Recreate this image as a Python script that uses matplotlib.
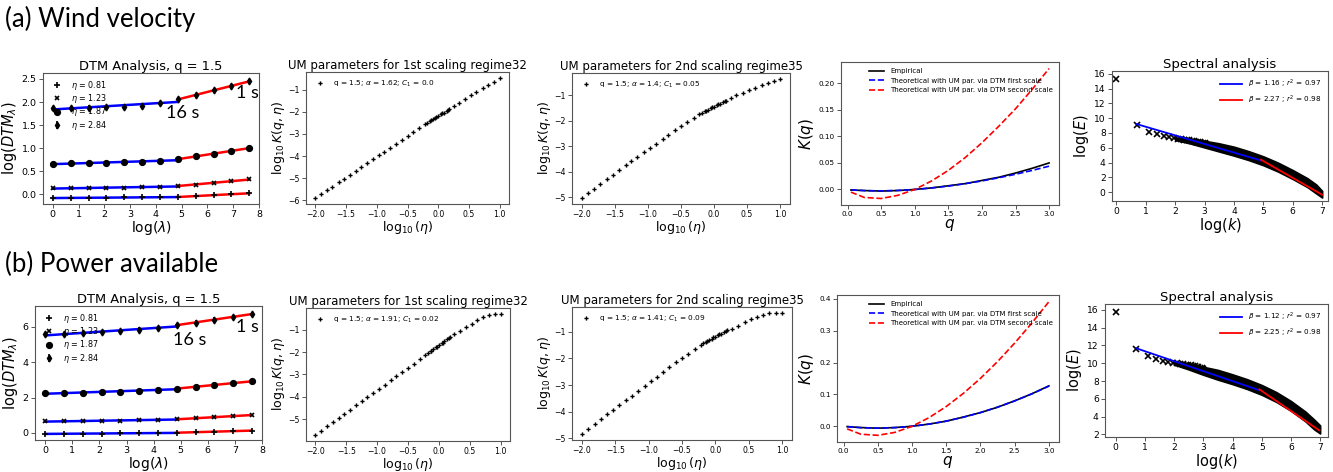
import numpy as np
import matplotlib
matplotlib.use("Agg")
import matplotlib.pyplot as plt
from matplotlib.ticker import MultipleLocator

W, H = 1333, 472

# DTM analysis, q = 1.5
log_lam = [0.0, 0.69, 1.39, 2.08, 2.77, 3.47, 4.16, 4.85, 5.55, 6.24, 6.93, 7.62]
etas = [0.81, 1.23, 1.87, 2.84]
dtm_wind = [
    [-0.08, -0.08, -0.08, -0.075, -0.07, -0.07, -0.065, -0.06, -0.04, -0.02, 0.0, 0.02],
    [0.13, 0.13, 0.135, 0.14, 0.14, 0.15, 0.16, 0.18, 0.21, 0.25, 0.28, 0.32],
    [0.66, 0.67, 0.68, 0.68, 0.69, 0.70, 0.72, 0.76, 0.82, 0.88, 0.94, 1.00],
    [1.87, 1.87, 1.88, 1.89, 1.90, 1.92, 1.97, 2.06, 2.15, 2.25, 2.35, 2.45],
]
dtm_power = [
    [-0.05, -0.05, -0.04, -0.04, -0.03, -0.02, -0.01, 0.01, 0.04, 0.07, 0.10, 0.13],
    [0.65, 0.66, 0.67, 0.68, 0.70, 0.72, 0.74, 0.77, 0.83, 0.89, 0.95, 1.01],
    [2.24, 2.26, 2.28, 2.31, 2.34, 2.38, 2.43, 2.51, 2.61, 2.71, 2.82, 2.92],
    [5.58, 5.60, 5.64, 5.70, 5.76, 5.85, 5.95, 6.10, 6.25, 6.42, 6.58, 6.72],
]
dtm_err_wind = 0.05
dtm_err_power = 0.12

# UM parameters: log10 K(q, eta) against log10(eta)
log_eta = [-2.0, -1.91, -1.81, -1.72, -1.62, -1.53, -1.44, -1.34, -1.25, -1.16, -1.06,
           -0.97, -0.88, -0.78, -0.69, -0.59, -0.5, -0.41, -0.31, -0.22, -0.12, -0.03,
           0.06, 0.16, 0.25, 0.34, 0.44, 0.53, 0.62, 0.72, 0.81, 0.91, 1.0]
log_eta_dense = [-0.18, -0.135, -0.09, -0.045, 0.0, 0.045, 0.09, 0.135, 0.18]

um1_wind = [-5.90, -5.73, -5.54, -5.38, -5.19, -5.02, -4.85, -4.67, -4.50, -4.33, -4.14,
            -3.97, -3.81, -3.62, -3.45, -3.27, -3.10, -2.93, -2.74, -2.57, -2.39, -2.23,
            -2.07, -1.90, -1.74, -1.58, -1.41, -1.25, -1.10, -0.94, -0.79, -0.63, -0.47]
um1_wind_dense = [-2.49, -2.41, -2.34, -2.26, -2.19, -2.11, -2.04, -1.96, -1.89]
um2_wind = [-5.04, -4.86, -4.67, -4.49, -4.30, -4.12, -3.95, -3.76, -3.59, -3.42, -3.23,
            -3.06, -2.90, -2.72, -2.56, -2.38, -2.22, -2.07, -1.90, -1.75, -1.61, -1.48,
            -1.36, -1.23, -1.11, -1.01, -0.90, -0.80, -0.71, -0.61, -0.53, -0.44, -0.36]
um2_wind_dense = [-1.69, -1.63, -1.57, -1.51, -1.45, -1.39, -1.33, -1.27, -1.21]
um1_power = [-5.70, -5.52, -5.32, -5.14, -4.94, -4.76, -4.58, -4.38, -4.20, -4.02, -3.82,
             -3.64, -3.46, -3.26, -3.08, -2.88, -2.70, -2.52, -2.32, -2.14, -1.94, -1.76,
             -1.58, -1.38, -1.21, -1.06, -0.90, -0.74, -0.57, -0.42, -0.33, -0.30, -0.30]
um1_power_dense = [-2.06, -1.97, -1.88, -1.79, -1.70, -1.61, -1.52, -1.43, -1.34]
um2_power = [-4.84, -4.67, -4.48, -4.29, -4.10, -3.93, -3.76, -3.57, -3.40, -3.23, -3.04,
             -2.85, -2.68, -2.49, -2.32, -2.14, -1.98, -1.82, -1.65, -1.49, -1.34, -1.21,
             -1.09, -0.96, -0.88, -0.76, -0.64, -0.53, -0.43, -0.35, -0.30, -0.29, -0.29]
um2_power_dense = [-1.43, -1.37, -1.31, -1.25, -1.19, -1.12, -1.06, -1.00, -0.94]

um_labels_wind = [r"q = 1.5; $\alpha$ = 1.62; $C_1$ = 0.0", r"q = 1.5; $\alpha$ = 1.4; $C_1$ = 0.05"]
um_labels_power = [r"q = 1.5; $\alpha$ = 1.91; $C_1$ = 0.02", r"q = 1.5; $\alpha$ = 1.41; $C_1$ = 0.09"]

# K(q) curves
q_vals = [0.05, 0.25, 0.5, 0.75, 1.0, 1.25, 1.5, 1.75, 2.0, 2.25, 2.5, 2.75, 3.0]
kq_emp_wind = [-0.001, -0.002, -0.003, -0.002, 0.0, 0.003, 0.007, 0.011, 0.017, 0.023, 0.031, 0.040, 0.050]
kq_first_wind = [-0.0006, -0.0022, -0.0026, -0.0018, 0.0, 0.0028, 0.0064, 0.0109, 0.0161, 0.0221, 0.0287, 0.0360, 0.0439]
kq_second_wind = [-0.005, -0.015, -0.017, -0.011, 0.0, 0.016, 0.036, 0.060, 0.088, 0.119, 0.152, 0.189, 0.228]
kq_emp_power = [-0.001, -0.004, -0.006, -0.004, 0.0, 0.007, 0.016, 0.029, 0.043, 0.060, 0.080, 0.102, 0.127]
kq_first_power = [-0.0011, -0.0044, -0.0057, -0.0042, 0.0, 0.0069, 0.0164, 0.0285, 0.0431, 0.0602, 0.0797, 0.1017, 0.1262]
kq_second_power = [-0.0081, -0.0249, -0.0284, -0.0191, 0.0, 0.0274, 0.0622, 0.1034, 0.1507, 0.2034, 0.2614, 0.3242, 0.3914]

# Spectra: first wavenumbers, then the dense band at high k
log_k = [0.0, 0.69, 1.10, 1.39, 1.61, 1.79, 1.95, 2.08, 2.20, 2.30,
         2.40, 2.48, 2.56, 2.64, 2.71, 2.77, 2.83, 2.89, 2.94, 3.0]
logE_wind = [15.3, 9.1, 8.2, 7.8, 7.6, 7.45, 7.35, 7.25, 7.2, 7.1,
             7.05, 7.0, 6.95, 6.9, 6.85, 6.8, 6.75, 6.7, 6.65, 6.6]
logE_power = [15.8, 11.6, 10.8, 10.45, 10.25, 10.15, 10.05, 10.0, 9.95, 9.9,
              9.85, 9.8, 9.75, 9.7, 9.65, 9.6, 9.55, 9.5, 9.45, 9.4]
band_x = [2.0, 2.5, 3.0, 3.5, 4.0, 4.5, 5.0, 5.5, 6.0, 6.5, 6.8, 7.0]
band_wind_hi = [7.35, 7.2, 6.95, 6.6, 6.15, 5.55, 4.85, 4.0, 3.0, 1.9, 1.05, 0.2]
band_wind_lo = [7.05, 6.6, 6.05, 5.5, 4.95, 4.35, 3.65, 2.8, 1.8, 0.7, -0.15, -0.7]
band_power_hi = [10.15, 9.9, 9.6, 9.25, 8.75, 8.2, 7.55, 6.75, 5.75, 4.55, 3.65, 3.0]
band_power_lo = [9.85, 9.3, 8.7, 8.15, 7.65, 7.1, 6.45, 5.65, 4.65, 3.45, 2.55, 2.1]

# spectral fits: beta, r^2, x range, anchor point (x, logE)
beta_wind = [1.16, 2.27]
r2_wind = [0.97, 0.98]
fit_x_wind = [[0.69, 4.92], [4.92, 7.0]]
fit_anchor_wind = [(0.69, 9.2), (7.0, -0.32)]
beta_power = [1.12, 2.25]
r2_power = [0.97, 0.98]
fit_x_power = [[0.69, 4.92], [4.92, 6.97]]
fit_anchor_power = [(0.69, 11.7), (6.97, 2.45)]

SPINE = "#555555"


def px_axes(fig, x0, y0, x1, y1):
    return fig.add_axes([x0 / W, 1 - y1 / H, (x1 - x0) / W, (y1 - y0) / H])


def style(ax, tick_fs):
    for s in ax.spines.values():
        s.set_color(SPINE)
        s.set_linewidth(0.8)
    ax.tick_params(labelsize=tick_fs, length=3, width=0.7, color=SPINE, pad=1.5)


def dtm_panel(ax, series, err, note16, note1):
    x = np.array(log_lam)
    markers = ["+", "x", "o", "d"]
    sizes = [4, 3, 4, 3.5]
    for vals, eta, m, ms in zip(series, etas, markers, sizes):
        y = np.array(vals)
        lab = r"$\eta$ = %.2f" % eta
        if m == "d":
            ax.errorbar(x, y, yerr=err, fmt="d", color="k", ms=ms, elinewidth=1.2,
                        capsize=0, label=lab, zorder=3)
        else:
            ax.plot(x, y, m, color="k", ms=ms, mew=1.2, label=lab, zorder=3)
        for sl, c in ((slice(0, 8), "blue"), (slice(7, 12), "red")):
            p = np.polyfit(x[sl], y[sl], 1)
            ax.plot(x[sl], np.polyval(p, x[sl]), color=c, lw=1.8, zorder=2)
    ax.xaxis.set_major_locator(MultipleLocator(1))
    ax.set_title("DTM Analysis, q = 1.5", fontsize=9.4, pad=2)
    ax.set_xlabel(r"log($\lambda$)", fontsize=10, labelpad=0)
    ax.set_ylabel(r"log($DTM_{\lambda}$)", fontsize=10.5, labelpad=2)
    ax.legend(loc="upper left", frameon=False, fontsize=5.8, handletextpad=0.8,
              labelspacing=0.05, borderaxespad=0.3, handleheight=0.5)
    ax.text(note16[0], note16[1], "16 s", fontsize=13, family="Lato", va="center")
    ax.text(note1[0], note1[1], "1 s", fontsize=13, family="Lato", va="center")
    style(ax, 6.8)


def um_panel(ax, y, y_dense, title, label):
    ax.plot(log_eta, y, "P", color="k", ms=3, mew=0, label=label)
    ax.plot(log_eta_dense, y_dense, "P", color="k", ms=3, mew=0)
    ax.xaxis.set_major_locator(MultipleLocator(0.5))
    ax.yaxis.set_major_locator(MultipleLocator(1))
    ax.set_title(title, fontsize=8.5, pad=1)
    ax.set_xlabel(r"$\log_{10}(\eta)$", fontsize=9, labelpad=0)
    ax.set_ylabel(r"$\log_{10}K(q,\eta)$", fontsize=9, labelpad=1)
    ax.legend(loc="upper left", frameon=False, fontsize=5.3, handletextpad=0.8)
    style(ax, 5.6)


def kq_panel(ax, emp, first, second, ystep):
    ax.plot(q_vals, emp, color="k", lw=1.2, label="Empirical")
    ax.plot(q_vals, first, "--", color="blue", lw=1.2,
            label="Theoretical with UM par. via DTM first scale")
    ax.plot(q_vals, second, "--", color="red", lw=1.2,
            label="Theoretical with UM par. via DTM second scale")
    ax.xaxis.set_major_locator(MultipleLocator(0.5))
    ax.yaxis.set_major_locator(MultipleLocator(ystep))
    ax.set_xlabel(r"$q$", fontsize=11, labelpad=0)
    ax.set_ylabel(r"$K(q)$", fontsize=11, labelpad=2)
    ax.legend(loc="upper right", frameon=False, fontsize=5, handlelength=2.2)
    style(ax, 5.2)


def spec_panel(ax, logE, hi, lo, betas, r2s, fit_x, anchors, xlim, ylim):
    ax.fill_between(band_x, lo, hi, facecolor="k", edgecolor="k", lw=1.2, zorder=2)
    ax.plot(log_k, logE, "x", color="k", ms=5, mew=1.2, zorder=2)
    for b, r2, xs, (ax0, ay0), c in zip(betas, r2s, fit_x, anchors, ("blue", "red")):
        xs = np.array(xs)
        ax.plot(xs, ay0 - b * (xs - ax0), color=c, lw=1.3, zorder=3,
                label=r"$\beta$ = %.2f ; $r^2$ = %.2f" % (b, r2))
    ax.set_xlim(*xlim)
    ax.set_ylim(*ylim)
    ax.xaxis.set_major_locator(MultipleLocator(1))
    ax.yaxis.set_major_locator(MultipleLocator(2))
    ax.set_title("Spectral analysis", fontsize=9.5, pad=1)
    ax.set_xlabel(r"log($k$)", fontsize=10.5, labelpad=0)
    ax.set_ylabel(r"log($E$)", fontsize=10.5, labelpad=2)
    ax.legend(loc="upper right", frameon=False, fontsize=5.2, handlelength=3)
    style(ax, 6.6)


fig = plt.figure(figsize=(W / 100, H / 100), dpi=100)

fig.text(5 / W, 1 - 19 / H, "(a) Wind velocity", fontsize=18.5, family="Lato", va="center")
fig.text(5 / W, 1 - 264 / H, "(b) Power available", fontsize=18.5, family="Lato", va="center")

# (a) wind velocity
ax = px_axes(fig, 43, 73, 259, 204)
dtm_panel(ax, dtm_wind, dtm_err_wind, (4.4, 1.77), (7.1, 2.2))
ax = px_axes(fig, 306, 72, 509, 204)
um_panel(ax, um1_wind, um1_wind_dense, "UM parameters for 1st scaling regime32", um_labels_wind[0])
ax = px_axes(fig, 572, 73, 790, 204)
um_panel(ax, um2_wind, um2_wind_dense, "UM parameters for 2nd scaling regime35", um_labels_wind[1])
ax = px_axes(fig, 841, 62, 1059, 205)
kq_panel(ax, kq_emp_wind, kq_first_wind, kq_second_wind, 0.05)
ax = px_axes(fig, 1112, 71, 1328, 201)
spec_panel(ax, logE_wind, band_wind_hi, band_wind_lo, beta_wind, r2_wind,
           fit_x_wind, fit_anchor_wind, (-0.15, 7.2), (-1.17, 16.36))

# (b) power available
ax = px_axes(fig, 35, 306, 262, 440)
dtm_panel(ax, dtm_power, dtm_err_power, (4.72, 5.28), (7.04, 6.0))
ax = px_axes(fig, 306, 308, 510, 441)
um_panel(ax, um1_power, um1_power_dense, "UM parameters for 1st scaling regime32", um_labels_power[0])
ax = px_axes(fig, 572, 307, 792, 440)
um_panel(ax, um2_power, um2_power_dense, "UM parameters for 2nd scaling regime35", um_labels_power[1])
ax = px_axes(fig, 837, 295, 1059, 442)
kq_panel(ax, kq_emp_power, kq_first_power, kq_second_power, 0.1)
ax = px_axes(fig, 1105, 304, 1328, 437)
spec_panel(ax, logE_power, band_power_hi, band_power_lo, beta_power, r2_power,
           fit_x_power, fit_anchor_power, (-0.37, 7.27), (1.7, 16.67))

fig.savefig("out.png", dpi=100)
